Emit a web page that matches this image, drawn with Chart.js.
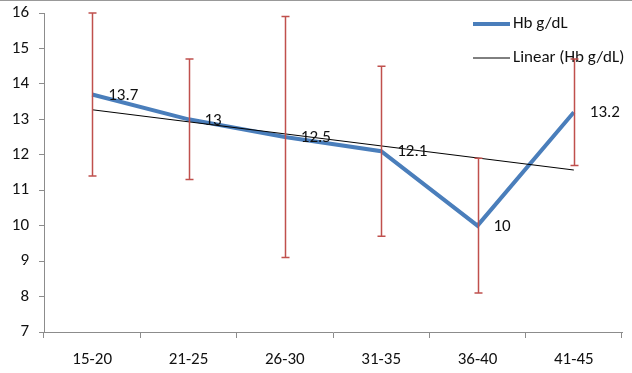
<!DOCTYPE html>
<html>
<head>
<meta charset="utf-8">
<script src="https://cdn.jsdelivr.net/npm/chart.js@4"></script>
<style>
  html, body { margin: 0; padding: 0; background: #fff; }
  #wrap { position: relative; width: 632px; height: 373px; border-top: 1px solid #999; box-sizing: border-box; }
</style>
</head>
<body>
<div id="wrap"><canvas id="hbChart" width="632" height="372"></canvas></div>
<script>
// age groups and Hb means
var ageGroups = ["15-20", "21-25", "26-30", "31-35", "36-40", "41-45"];
var hbMean = [13.7, 13, 12.5, 12.1, 10, 13.2];
// error bar ends
var hbHigh = [16.0, 14.7, 15.9, 14.5, 11.9, 14.7];
var hbLow = [11.4, 11.3, 9.1, 9.7, 8.1, 11.7];
// linear trend, only the two ends are read, line spans the gap
var hbTrend = [13.27, null, null, null, null, 11.57];

var fontFamily = "Carlito, Lato, 'Open Sans', sans-serif";
var fontSize = 17;
var textColor = "#111";
var axisColor = "#8c8c8c";
var blue = "#4a7ebb";
var red = "#c0504d";

var legendPlugin = {
    id: "excelLegend",
    beforeDatasetsDraw: function(chart){
        var ctx = chart.ctx;
        ctx.save();
        ctx.font = fontSize + "px " + fontFamily;
        ctx.fillStyle = textColor;
        ctx.textBaseline = "middle";
        ctx.textAlign = "left";

        ctx.strokeStyle = blue;
        ctx.lineWidth = 4;
        ctx.beginPath();
        ctx.moveTo(473, 23);
        ctx.lineTo(510, 23);
        ctx.stroke();
        ctx.fillText("Hb g/dL", 513, 23);

        ctx.strokeStyle = "#000";
        ctx.lineWidth = 1;
        ctx.beginPath();
        ctx.moveTo(473, 57);
        ctx.lineTo(510, 57);
        ctx.stroke();
        ctx.fillText("Linear (Hb g/dL)", 513, 57);
        ctx.restore();
    }
};

var errorBarPlugin = {
    id: "errorBars",
    afterDatasetsDraw: function(chart){
        var ctx = chart.ctx;
        var xs = chart.scales.x;
        var ys = chart.scales.y;
        ctx.save();
        ctx.strokeStyle = red;
        ctx.lineWidth = 1.5;
        for (var i = 0; i < ageGroups.length; i++) {
            var x = Math.round(xs.getPixelForValue(i)) + 0.5;
            var top = ys.getPixelForValue(hbHigh[i]);
            var bot = ys.getPixelForValue(hbLow[i]);
            ctx.beginPath();
            ctx.moveTo(x, top);
            ctx.lineTo(x, bot);
            ctx.moveTo(x - 4, top);
            ctx.lineTo(x + 4, top);
            ctx.moveTo(x - 4, bot);
            ctx.lineTo(x + 4, bot);
            ctx.stroke();
        }
        ctx.restore();
    }
};

var valueLabelPlugin = {
    id: "valueLabels",
    afterDatasetsDraw: function(chart){
        var ctx = chart.ctx;
        var meta = chart.getDatasetMeta(0);
        ctx.save();
        ctx.font = fontSize + "px " + fontFamily;
        ctx.fillStyle = textColor;
        ctx.textAlign = "left";
        ctx.textBaseline = "middle";
        meta.data.forEach(function(pt, i){
            ctx.fillText(String(hbMean[i]), pt.x + 16, pt.y + 1);
        });
        ctx.restore();
    }
};

var config = {
    type: "line",
    data: {
        labels: ageGroups,
        datasets: [{
            label: "Hb g/dL",
            data: hbMean,
            borderColor: blue,
            borderWidth: 4,
            pointRadius: 0,
            tension: 0,
            order: 2
        }, {
            label: "Linear (Hb g/dL)",
            data: hbTrend,
            borderColor: "#000",
            borderWidth: 1,
            pointRadius: 0,
            spanGaps: true,
            order: 1
        }]
    },
    options: {
        responsive: false,
        animation: false,
        layout: { padding: { top: 12, right: 10, left: 0, bottom: 0 } },
        plugins: {
            legend: { display: false },
            tooltip: { enabled: false }
        },
        scales: {
            x: {
                offset: true,
                afterFit: function(scale){ scale.height = 41; },
                grid: { offset: true, drawOnChartArea: false, tickLength: 6, color: axisColor },
                border: { color: axisColor, width: 1 },
                ticks: { color: textColor, font: { family: fontFamily, size: fontSize }, padding: 12, maxRotation: 0 }
            },
            y: {
                min: 7,
                max: 16,
                afterFit: function(scale){
                    scale.width = 44;
                    scale.paddingTop = 0;
                    scale.paddingBottom = 0;
                },
                grid: { drawOnChartArea: false, tickLength: 5, color: axisColor },
                border: { color: axisColor, width: 1 },
                ticks: { stepSize: 1, color: textColor, font: { family: fontFamily, size: fontSize }, padding: 10 }
            }
        }
    },
    plugins: [legendPlugin, errorBarPlugin, valueLabelPlugin]
};

new Chart(document.getElementById("hbChart"), config);
</script>
</body>
</html>
